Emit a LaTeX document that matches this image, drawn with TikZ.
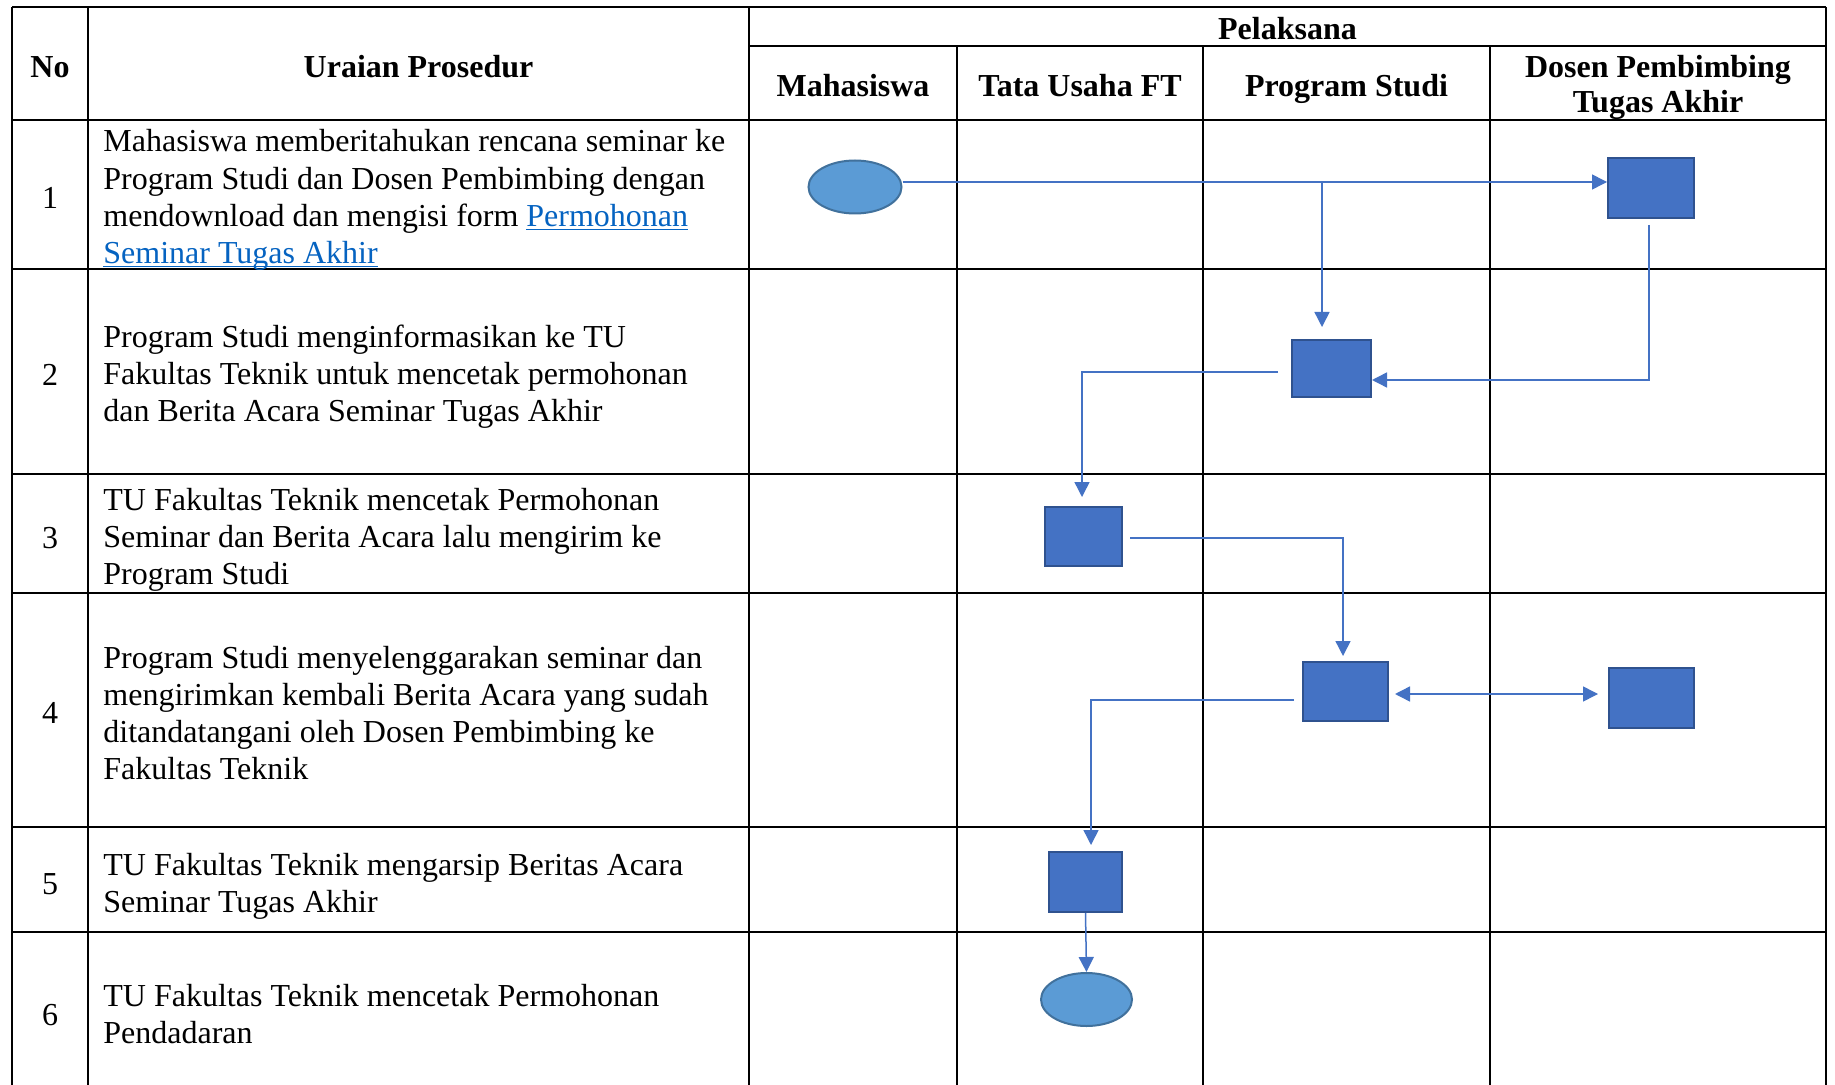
\documentclass[tikz,border=0pt]{standalone}
\usepackage{fontspec}
\setmainfont{Liberation Serif}
\usetikzlibrary{arrows.meta,shapes.geometric,calc}
\definecolor{flowblue}{HTML}{4472C4}
\definecolor{rectedge}{HTML}{2F528F}
\definecolor{ellfill}{HTML}{5B9BD5}
\definecolor{elledge}{HTML}{41719C}
\definecolor{linkblue}{HTML}{0563C1}
\newcommand\lnktext[1]{\textcolor{linkblue}{\underline{\smash{#1}}}}
\begin{document}
\begin{tikzpicture}[x=0.5pt,y=-0.5pt,
  font=\fontsize{16pt}{18.7pt}\selectfont,
  proc/.style={rectangle, draw=rectedge, line width=1pt, fill=flowblue, inner sep=0pt},
  term/.style={ellipse, draw=elledge, line width=1pt, fill=ellfill, inner sep=0pt},
  flow/.style={draw=flowblue, line width=0.75pt},
  arr/.style={flow, -{Triangle[length=7.5pt,width=7.5pt]}},
  dbl/.style={flow, {Triangle[length=7.5pt,width=7.5pt]}-{Triangle[length=7.5pt,width=7.5pt]}},
  hline/.style={line width=1.2pt},
  vthick/.style={line width=1.2pt},
  vthin/.style={line width=0.7pt},
  body/.style={anchor=base west, inner sep=0pt},
  head/.style={anchor=base, inner sep=0pt, font=\fontsize{16pt}{18.7pt}\selectfont\bfseries},
  num/.style={anchor=base, inner sep=0pt}]
\useasboundingbox (0,0) rectangle (1835,1085);
\fill[white] (0,0) rectangle (1835,1085);

% table grid
\draw[hline] (12,7) -- (1826,7);
\draw[hline] (749,46) -- (1826,46);
\foreach \yy in {120,269,474,593,827,932} {\draw[hline] (12,\yy) -- (1826,\yy);}
\draw[vthick] (12,7) -- (12,1085);
\draw[vthick] (88,7) -- (88,1085);
\draw[vthick] (749,7) -- (749,1085);
\foreach \xx in {957,1203,1490} {\draw[vthin] (\xx,46) -- (\xx,1085);}
\draw[vthin] (1826,7) -- (1826,1085);

\begin{scope}[shift={(0,3)}]
% headers
\node[head] (hno) at (50,75) {No};
\node[head] (hur) at (418.5,75) {Uraian Prosedur};
\node[head] (hpel) at (1287.5,36.5) {Pelaksana};
\node[head] (hmhs) at (853,94) {Mahasiswa};
\node[head] (htu) at (1080,94) {Tata Usaha FT};
\node[head] (hps) at (1346.5,94) {Program Studi};
\node[head] (hds1) at (1658,75) {Dosen Pembimbing};
\node[head] (hds2) at (1658,110) {Tugas Akhir};

% numbers
\node[num] (n1) at (50,206) {1};
\node[num] (n2) at (50,382.5) {2};
\node[num] (n3) at (50,545) {3};
\node[num] (n4) at (50,720.5) {4};
\node[num] (n5) at (50,891) {5};
\node[num] (n6) at (50,1022) {6};

% row texts
\node[body] (r1a) at (103,149) {Mahasiswa memberitahukan rencana seminar ke};
\node[body] (r1b) at (103,186.5) {Program Studi dan Dosen Pembimbing dengan};
\node[body] (r1c) at (103,224) {mendownload dan mengisi form \lnktext{Permohonan}};
\node[body] (r1d) at (103,261) {\lnktext{Seminar Tugas Akhir}};

\node[body] (r2a) at (103,345) {Program Studi menginformasikan ke TU};
\node[body] (r2b) at (103,382) {Fakultas Teknik untuk mencetak permohonan};
\node[body] (r2c) at (103,419) {dan Berita Acara Seminar Tugas Akhir};

\node[body] (r3a) at (103,507) {TU Fakultas Teknik mencetak Permohonan};
\node[body] (r3b) at (103,544) {Seminar dan Berita Acara lalu mengirim ke};
\node[body] (r3c) at (103,581) {Program Studi};

\node[body] (r4a) at (103,665) {Program Studi menyelenggarakan seminar dan};
\node[body] (r4b) at (103,702) {mengirimkan kembali Berita Acara yang sudah};
\node[body] (r4c) at (103,739) {ditandatangani oleh Dosen Pembimbing ke};
\node[body] (r4d) at (103,776) {Fakultas Teknik};

\node[body] (r5a) at (103,872) {TU Fakultas Teknik mengarsip Beritas Acara};
\node[body] (r5b) at (103,909) {Seminar Tugas Akhir};

\node[body] (r6a) at (103,1003) {TU Fakultas Teknik mencetak Permohonan};
\node[body] (r6b) at (103,1040) {Pendadaran};
\end{scope}

% flow shapes
\node[term, minimum width=46.5pt, minimum height=26.5pt] (e1) at (855,187) {};
\node[proc, minimum width=43pt, minimum height=30pt] (d1) at (1651,188) {};
\node[proc, minimum width=39.5pt, minimum height=28.5pt] (p2) at (1331.5,368.5) {};
\node[proc, minimum width=38.5pt, minimum height=29.5pt] (t3) at (1083.5,536.5) {};
\node[proc, minimum width=42.5pt, minimum height=29.5pt] (p4) at (1345.5,691.5) {};
\node[proc, minimum width=42.5pt, minimum height=30pt] (d4) at (1651.5,698) {};
\node[proc, minimum width=36.5pt, minimum height=30pt] (t5) at (1085.5,882) {};
\node[term, minimum width=45.5pt, minimum height=26.5pt] (e6) at (1086.5,999.5) {};

% helper points
\coordinate (j1) at (1322,182);
\coordinate (k2) at (1649,380);
\coordinate (k3) at (1082,372);
\coordinate (k4) at (1343,538);
\coordinate (k5) at (1500,694);
\coordinate (k6) at (1091,700);

% connectors
\draw[flow] (e1.east |- j1) -- (j1);
\draw[arr] (j1) -- (d1.west |- j1);
\draw[arr, shorten >=6pt] (j1) -- (j1 |- p2.north);
\draw[arr, shorten <=3pt] (k2 |- d1.south) -- (k2) -- (p2.east |- k2);
\draw[arr, shorten <=6.5pt, shorten >=4.5pt] (p2.west |- k3) -- (k3) -- (k3 |- t3.north);
\draw[arr, shorten <=3.5pt, shorten >=2.5pt] (t3.east |- k4) -- (k4) -- (k4 |- p4.north);
\draw[dbl, shorten <=3pt, shorten >=5pt] (p4.east |- k5) -- (d4.west |- k5);
\draw[arr, shorten <=4pt, shorten >=3pt] (p4.west |- k6) -- (k6) -- (k6 |- t5.north);
\draw[arr] (t5.south) -- (e6.north);
\end{tikzpicture}
\end{document}
